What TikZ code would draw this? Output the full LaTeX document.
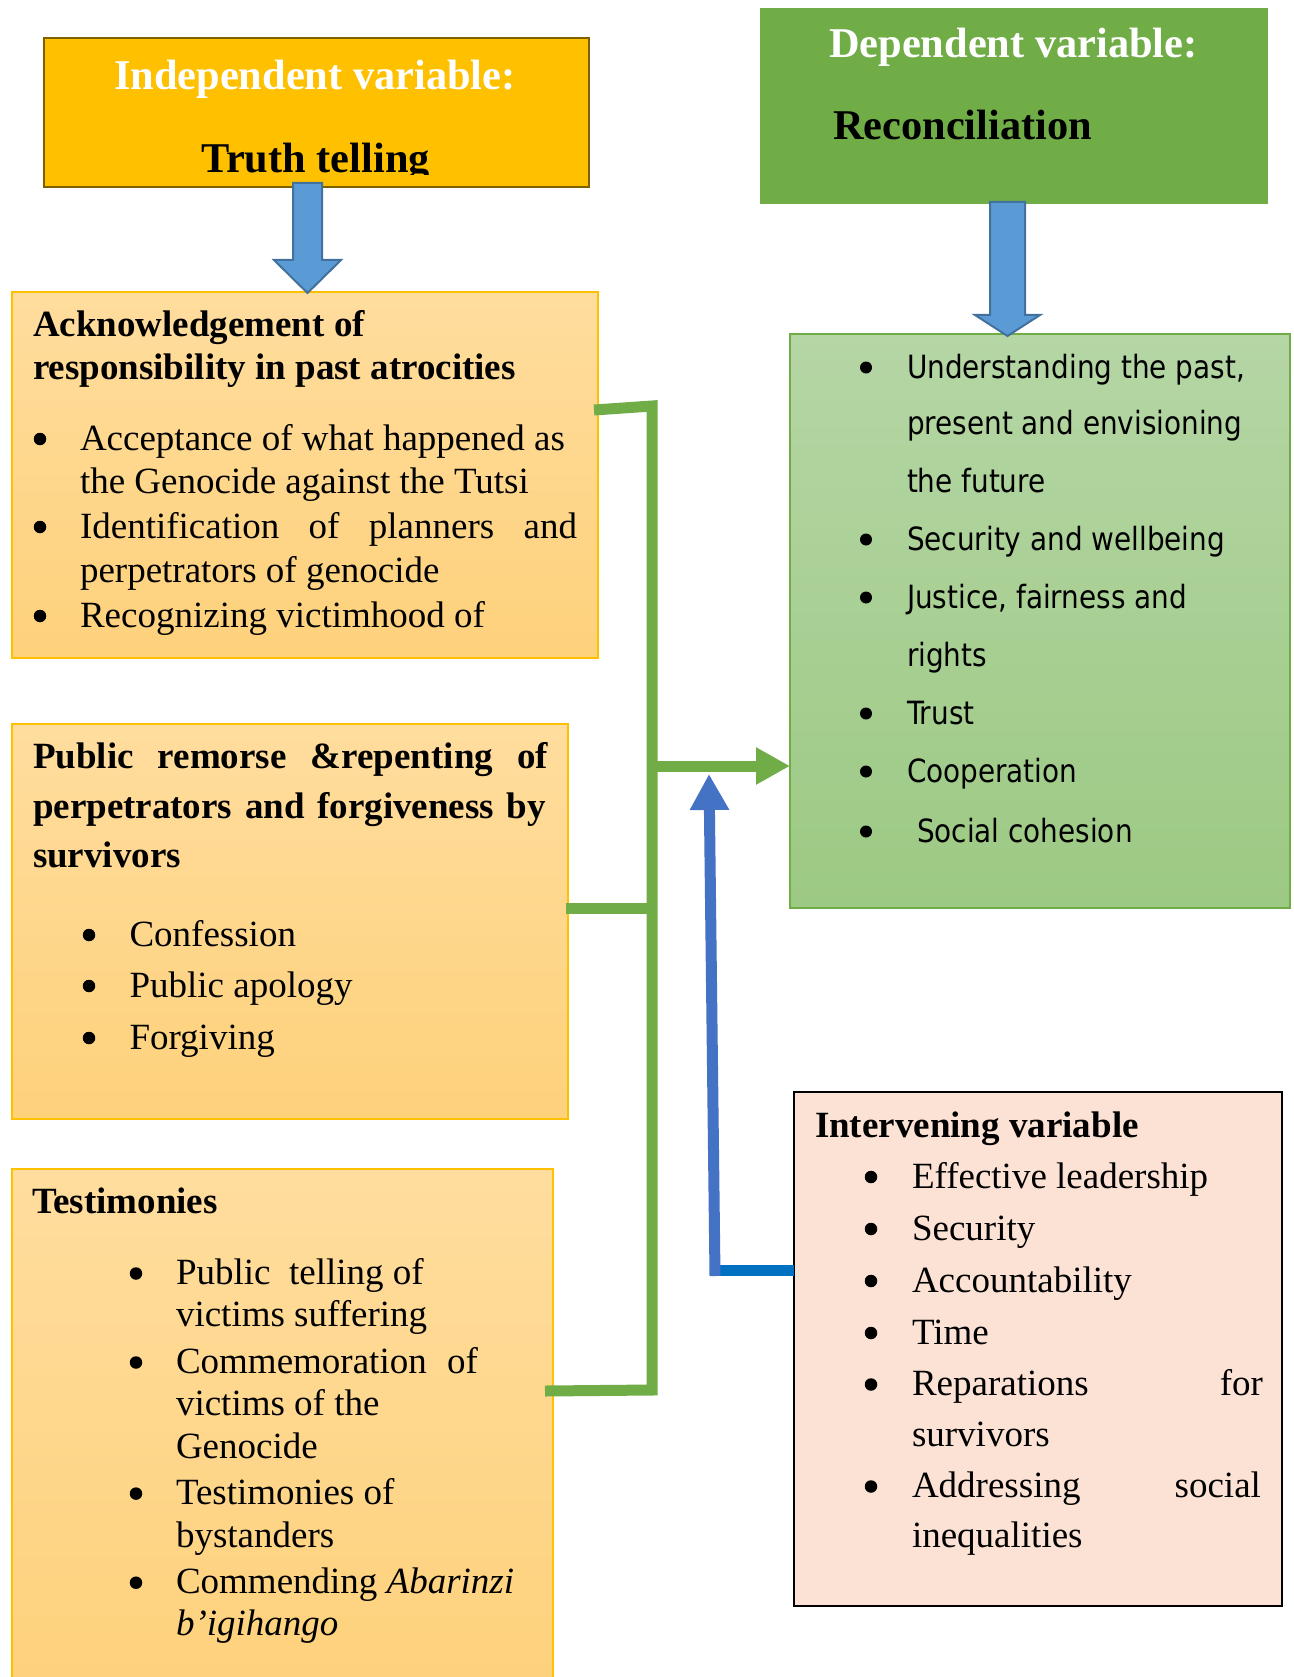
\documentclass[tikz,border=0pt]{standalone}
\usepackage{fontspec}
\setmainfont{Liberation Serif}
\newfontfamily\recfont[FakeStretch=0.871]{DejaVu Sans}
\usetikzlibrary{arrows.meta}
\definecolor{gold}{HTML}{FFC000}
\definecolor{goldedge}{HTML}{7F6000}
\definecolor{dgreen}{HTML}{70AD47}
\definecolor{otop}{HTML}{FFDD9E}
\definecolor{obot}{HTML}{FED17B}
\definecolor{gtop}{HTML}{B5D6A5}
\definecolor{gbot}{HTML}{9CC983}
\definecolor{peach}{HTML}{FBE2D5}
\definecolor{barrow}{HTML}{5B9BD5}
\definecolor{barrowedge}{HTML}{41719C}
\definecolor{bline}{HTML}{4472C4}
\definecolor{bline2}{HTML}{0070C0}
\begin{document}
\begin{tikzpicture}[x=1pt,y=-1pt,
  box/.style={anchor=north west, inner sep=0, outer sep=0, line width=1.5pt},
  ybox/.style={box, fill=gold, draw=goldedge, line width=2.5pt},
  gbox/.style={box, fill=dgreen},
  obox/.style={box, draw=gold, top color=otop, bottom color=obot},
  rbox/.style={box, draw=dgreen, top color=gtop, bottom color=gbot},
  ibox/.style={box, fill=peach, draw=black},
  body/.style={inner sep=0, outer sep=0, anchor=base west, font=\fontsize{37}{44}\selectfont},
  head/.style={body, font=\bfseries\fontsize{37}{44}\selectfont},
  title/.style={inner sep=0, outer sep=0, anchor=base west, font=\bfseries\fontsize{42.4}{50}\selectfont},
  rtext/.style={inner sep=0, outer sep=0, anchor=base west, font=\recfont\fontsize{32}{40}\selectfont},
  bdot/.style={circle, fill=black, inner sep=0, outer sep=0, minimum size=12.5},
  gline/.style={draw=dgreen, line width=11, line join=miter},
  blockarrow/.style={fill=barrow, draw=barrowedge, line width=2, line join=miter}
]
\fill[white] (0,0) rectangle (1293,1677);
\useasboundingbox (0,0) rectangle (1293,1677);

% boxes
\node[ybox, minimum width=545, minimum height=149] (indep) at (44,38) {};
\node[gbox, minimum width=508, minimum height=196] (dep) at (760,8) {};
\node[obox, minimum width=586, minimum height=366] (ack) at (12,292) {};
\node[rbox, minimum width=500, minimum height=574] (rec) at (790,334) {};
\node[obox, minimum width=556, minimum height=395] (pub) at (12,724) {};
\node[obox, minimum width=541, minimum height=530] (tes) at (12,1169) {};
\node[ibox, minimum width=488, minimum height=514] (inter) at (794,1092) {};

% independent variable
\node[title, text=white] (indepA) at (114,90) {Independent variable:};
\begin{scope}
  \clip (44,38) rectangle (589,175);
  \node[title] (indepB) at (201,173) {Truth telling};
\end{scope}

% dependent variable
\node[title, text=white] (depA) at (829,58) {Dependent variable:};
\node[title] (depB) at (833,140) {Reconciliation};

% acknowledgement box
\node[head] (ackH1) at (33,337) {Acknowledgement of};
\node[head] (ackH2) at (33,379) {responsibility in past atrocities};
\node[bdot] (ackB1) at (40,439) {};
\node[body] (ackL1) at (80,450) {Acceptance of what happened as};
\node[body] (ackL2) at (80,493) {the Genocide against the Tutsi};
\node[bdot] (ackB2) at (40,527) {};
\node[body] (ackL3) at (80,538) {\makebox[497pt][s]{Identification of planners and}};
\node[body] (ackL4) at (80,582) {perpetrators of genocide};
\node[bdot] (ackB3) at (40,616) {};
\node[body] (ackL5) at (80,627) {Recognizing victimhood of};

% public remorse box
\node[head] (pubH1) at (33,768) {\makebox[515pt][s]{Public remorse \&repenting of}};
\node[head] (pubH2) at (33,818) {\makebox[513pt][s]{perpetrators and forgiveness by}};
\node[head] (pubH3) at (33,867) {survivors};
\node[bdot] (pubB1) at (89,935) {};
\node[body] (pubL1) at (129.5,946) {Confession};
\node[bdot] (pubB2) at (89,986) {};
\node[body] (pubL2) at (129.5,997) {Public apology};
\node[bdot] (pubB3) at (89,1038) {};
\node[body] (pubL3) at (129.5,1049) {Forgiving};

% testimonies box
\node[head] (tesH) at (32,1213) {Testimonies};
\node[bdot] (tesB1) at (136,1273.5) {};
\node[body] (tesL1) at (176,1284.5) {Public\ \ telling of};
\node[body] (tesL2) at (176,1326.5) {victims suffering};
\node[bdot] (tesB2) at (136,1362.5) {};
\node[body] (tesL3) at (176,1373.5) {\makebox[302pt][s]{Commemoration of}};
\node[body] (tesL4) at (176,1415.5) {victims of the};
\node[body] (tesL5) at (176,1458.5) {Genocide};
\node[bdot] (tesB3) at (136,1493.6) {};
\node[body] (tesL6) at (176,1504.6) {Testimonies of};
\node[body] (tesL7) at (176,1547.6) {bystanders};
\node[bdot] (tesB4) at (136,1582.7) {};
\node[body] (tesL8) at (176,1593.7) {Commending \textit{Abarinzi}};
\node[body] (tesL9) at (176,1635.7) {\textit{b’igihango}};

% reconciliation box
\node[bdot, minimum size=12] (recB1) at (866,367.5) {};
\node[rtext] (recL1) at (907,378) {Understanding the past,};
\node[rtext] (recL2) at (907,434) {present and envisioning};
\node[rtext] (recL3) at (907,492) {the future};
\node[bdot, minimum size=12] (recB2) at (866,539.5) {};
\node[rtext] (recL4) at (907,550) {Security and wellbeing};
\node[bdot, minimum size=12] (recB3) at (866,597.5) {};
\node[rtext] (recL5) at (907,608) {Justice, fairness and};
\node[rtext] (recL6) at (907,666) {rights};
\node[bdot, minimum size=12] (recB4) at (866,713.5) {};
\node[rtext] (recL7) at (907,724) {Trust};
\node[bdot, minimum size=12] (recB5) at (866,771.5) {};
\node[rtext] (recL8) at (907,782) {Cooperation};
\node[bdot, minimum size=12] (recB6) at (866,831.5) {};
\node[rtext] (recL9) at (917,842) {Social cohesion};

% intervening box
\node[head] (intH) at (815,1137) {Intervening variable};
\node[bdot] (intB1) at (871,1177) {};
\node[body] (intL1) at (912,1188) {Effective leadership};
\node[bdot] (intB2) at (871,1229) {};
\node[body] (intL2) at (912,1240) {Security};
\node[bdot] (intB3) at (871,1281) {};
\node[body] (intL3) at (912,1292) {Accountability};
\node[bdot] (intB4) at (871,1333) {};
\node[body] (intL4) at (912,1344) {Time};
\node[bdot] (intB5) at (871,1384.5) {};
\node[body] (intL5) at (912,1395.5) {\makebox[351pt][s]{Reparations for}};
\node[body] (intL6) at (912,1446) {survivors};
\node[bdot] (intB6) at (871,1486.5) {};
\node[body] (intL7) at (912,1497.5) {\makebox[349pt][s]{Addressing social}};
\node[body] (intL8) at (912,1547) {inequalities};

% block arrows
\filldraw[blockarrow] (293,183) -- (322,183) -- (322,260) -- (341,260) -- (307.5,293) -- (274,260) -- (293,260) -- cycle;
\filldraw[blockarrow] (990,202) -- (1025,202) -- (1025,315) -- (1040,315) -- (1007.5,336) -- (975,315) -- (990,315) -- cycle;

% green connectors
\coordinate (gA) at (594,410);
\coordinate (gTop) at (652,406);
\coordinate (gBot) at (652,1390);
\coordinate (gT) at (545,1391);
\coordinate (gP) at (566,908);
\coordinate (gM) at (647,766);
\draw[gline] (gA) -- (gTop) -- (gBot) -- (gT);
\draw[gline] (gP) -- (gP -| gTop);
\draw[gline, -{Triangle[length=34pt,width=35pt]}] (gM) -- (rec.west |- gM);

% blue connector from intervening variable
\coordinate (bC) at (710,1270);
\coordinate (bTip) at (709,774);
\draw[draw=bline2, line width=11] (inter.west |- bC) -- (bC);
\draw[draw=bline, line width=11, -{Triangle[length=36pt,width=37pt]}] (715,1276) -- (bTip);
\end{tikzpicture}
\end{document}
